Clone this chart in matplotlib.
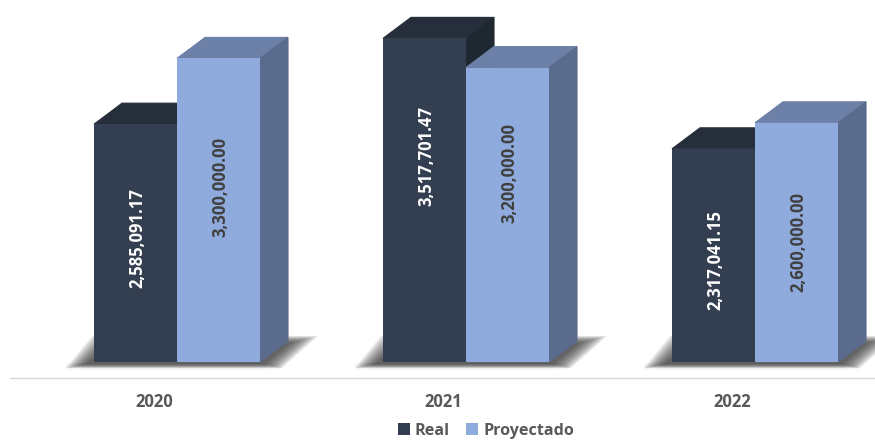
import numpy as np
import matplotlib
matplotlib.use("Agg")
import matplotlib.pyplot as plt
from matplotlib.patches import Polygon, Patch

years = ["2020", "2021", "2022"]
real = [2585091.17, 3517701.47, 2317041.15]
proyectado = [3300000.00, 3200000.00, 2600000.00]

DARK = "#333F50"
DARK_TOP = "#252E3A"
DARK_SIDE = "#1F2831"
LIGHT = "#8FAADC"
LIGHT_TOP = "#6C80A8"
LIGHT_SIDE = "#5B6B8D"
TEXT = "#595959"

GROUP_PX = 289.0
PX_X = 1 / GROUP_PX       # data units per pixel, x
PX_Y = 1 / 92e-6          # data units per pixel, y
BAR_W = 83 * PX_X
SHIFT = 22.5 * PX_X       # bars sit right of the category centre
DX = 28 * PX_X
DY = 21 * PX_Y

# small vertical nudges (px, up is positive) of the value labels from the bar middle
real_nudge = [5, 44, -5]
proy_nudge = [23, 42, 0]

plt.rcParams["font.family"] = ["Open Sans", "DejaVu Sans"]

fig = plt.figure(figsize=(8.75, 4.40), dpi=100)
ax = fig.add_axes([10 / 875, 62 / 440, 867 / 875, 378 / 440])
ax.set_xlim(-0.5, 2.5)
ax.set_ylim(-16 * PX_Y, 362 * PX_Y)


def draw_box(x0, height, front, top, side, z):
    x1 = x0 + BAR_W
    ax.add_patch(Polygon([(x0, height), (x1, height), (x1 + DX, height + DY), (x0 + DX, height + DY)],
                         facecolor=top, edgecolor=top, linewidth=0.8, zorder=z))
    ax.add_patch(Polygon([(x1, 0), (x1 + DX, DY), (x1 + DX, height + DY), (x1, height)],
                         facecolor=side, edgecolor=side, linewidth=0.8, zorder=z))
    ax.bar(x0, height, BAR_W, align="edge", color=front, linewidth=0, zorder=z + 0.01)


def draw_shadow(x0, x1):
    # pale floor band, then a soft shadow from stacked polygons, outer ones first
    ax.fill_between([x0 - 28 * PX_X, x1 + 20 * PX_X], -8 * PX_Y, -1 * PX_Y, color="#F6F6F6", lw=0, zorder=1)
    ax.fill_between([x0 - 12 * PX_X, x1 + 6 * PX_X], -7 * PX_Y, -1 * PX_Y, color="#EEEEEE", lw=0, zorder=1)
    n = 12
    for k in range(n):
        t = k / (n - 1)
        pts = [(x0 - (28 - 20 * t) * PX_X, -(6 - 4 * t) * PX_Y),
               (x1 + (22 - 18 * t) * PX_X, -(6 - 4 * t) * PX_Y),
               (x1 + (58 - 28 * t) * PX_X, (26 - 7 * t) * PX_Y),
               (x0 + (-2 + 20 * t) * PX_X, (26 - 7 * t) * PX_Y)]
        ax.add_patch(Polygon(pts, facecolor="#333333", edgecolor="none", alpha=0.11, zorder=2))


for i in range(len(years)):
    left = i + SHIFT - BAR_W
    mid = i + SHIFT
    draw_shadow(left, mid + BAR_W)
    draw_box(left, real[i], DARK, DARK_TOP, DARK_SIDE, 3 + i * 0.1)
    draw_box(mid, proyectado[i], LIGHT, LIGHT_TOP, LIGHT_SIDE, 3.05 + i * 0.1)
    ax.text(left + BAR_W / 2 + 1.5 * PX_X, real[i] / 2 + real_nudge[i] * PX_Y, f"{real[i]:,.2f}",
            rotation=90, ha="center", va="center", color="white", fontsize=12,
            fontweight="bold", zorder=5)
    ax.text(mid + BAR_W / 2 + 2 * PX_X, proyectado[i] / 2 + proy_nudge[i] * PX_Y, f"{proyectado[i]:,.2f}",
            rotation=90, ha="center", va="center", color="#404040", fontsize=12,
            fontweight="bold", zorder=5)

ax.patch.set_visible(False)
ax.set_yticks([])
ax.set_xticks(range(len(years)))
ax.set_xticklabels(years, fontsize=12, fontweight="bold", color=TEXT)
ax.tick_params(axis="x", length=0, pad=11)
for s in ["top", "left", "right"]:
    ax.spines[s].set_visible(False)
ax.spines["bottom"].set_color("#D9D9D9")
ax.spines["bottom"].set_linewidth(1.0)

handles = [Patch(facecolor=DARK, label="Real"), Patch(facecolor=LIGHT, label="Proyectado")]
fig.legend(handles=handles, loc="center", bbox_to_anchor=(486 / 875, 9.5 / 440), ncol=2, frameon=False,
           handlelength=0.75, handleheight=0.75, handletextpad=0.3, columnspacing=1.0,
           prop={"size": 11.6, "weight": "bold"}, labelcolor=TEXT, borderpad=0)

fig.savefig("out.png", dpi=100)
